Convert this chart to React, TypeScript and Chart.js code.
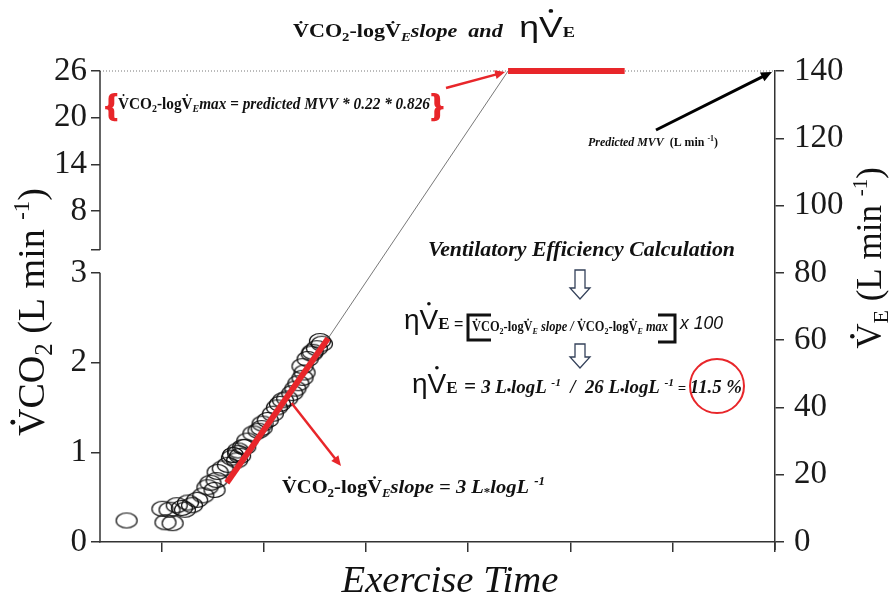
import React, { useEffect, useRef } from 'react';
import { Chart, registerables } from 'chart.js';
Chart.register(...registerables);

// ---- data ----
const circleX = [0.66, 1.01, 1.04, 1.11, 1.08, 1.15, 1.20, 1.26, 1.30, 1.35, 1.41, 1.45, 1.48, 1.54, 1.55, 1.60, 1.65, 1.69, 1.74, 1.75, 1.80, 1.84, 1.70, 1.75, 1.90, 1.95, 1.99, 2.04, 2.09, 2.13, 2.16, 2.23, 2.28, 2.31, 2.34, 2.38, 2.40, 2.43, 2.47, 2.52, 2.55, 2.57, 2.38, 1.82, 1.23, 1.52, 1.98, 2.19, 2.48, 1.77];
const circleY = [0.24, 0.37, 0.22, 0.21, 0.36, 0.41, 0.38, 0.44, 0.41, 0.47, 0.52, 0.61, 0.66, 0.69, 0.78, 0.82, 0.86, 0.94, 0.91, 0.99, 1.06, 1.13, 0.97, 1.02, 1.21, 1.24, 1.32, 1.36, 1.43, 1.50, 1.54, 1.60, 1.66, 1.71, 1.77, 1.83, 1.89, 2.04, 2.10, 2.16, 2.24, 2.21, 1.96, 1.06, 0.36, 0.58, 1.27, 1.58, 2.12, 0.96];

const slopeLineX = [1.64, 2.63];
const slopeLineY = [0.66, 2.27];
const extensionX = [2.63, 4.39];
const extensionY = [2.27, 26];
const maxBarX = [4.39, 5.53];
const maxBarY = [26, 26];
const refLineX = [0.4, 7];
const refLineY = [26, 26];

const xTicks = [1, 2, 3, 4, 5, 6, 7];
const leftTicks = [0, 1, 2, 3, 8, 14, 20, 26];
const rightTicks = [0, 20, 40, 60, 80, 100, 120, 140];

const X_MIN = 0.4;
const X_MAX = 7;
const BREAK_POS = 3.255;
const LEFT_MAX_POS = 5.25;
const UPPER_K = (LEFT_MAX_POS - BREAK_POS) / (26 - 3);
const leftPos = (v: number) => (v <= 3 ? v : BREAK_POS + (v - 3) * UPPER_K);

const SERIF = '"Liberation Serif", "Times New Roman", serif';
const SANS = '"Liberation Sans", Arial, sans-serif';

type Run = { t: string; s: number; b?: boolean; i?: boolean; fam?: string; dy?: number; c?: string; dot?: boolean };

const fontOf = (r: Run) => `${r.i ? 'italic ' : ''}${r.b ? 'bold ' : ''}${r.s}px ${r.fam || SERIF}`;

function drawRuns(ctx: CanvasRenderingContext2D, runs: Run[], x: number, y: number, align: 'left' | 'center' | 'right' = 'left', fitW?: number) {
  ctx.save();
  ctx.textAlign = 'left';
  ctx.textBaseline = 'alphabetic';
  let w = 0;
  for (const r of runs) {
    ctx.font = fontOf(r);
    w += ctx.measureText(r.t).width;
  }
  const k = fitW ? fitW / w : 1;
  const tw = w * k;
  const sx = align === 'center' ? x - tw / 2 : align === 'right' ? x - tw : x;
  ctx.translate(sx, y);
  ctx.scale(k, 1);
  let cx = 0;
  for (const r of runs) {
    ctx.font = fontOf(r);
    ctx.fillStyle = r.c || '#111';
    const dy = r.dy || 0;
    ctx.fillText(r.t, cx, dy);
    const mw = ctx.measureText(r.t).width;
    if (r.dot) {
      const last = r.t.length > 1 ? ctx.measureText(r.t.slice(0, -1)).width : 0;
      const lw = mw - last;
      const isSans = (r.fam || SERIF) === SANS;
      ctx.beginPath();
      ctx.arc(cx + last + lw / 2, dy - r.s * (isSans ? 0.9 : 0.82), Math.max(1, r.s * 0.065), 0, Math.PI * 2);
      ctx.fill();
    }
    cx += mw;
  }
  ctx.restore();
}

function arrow(ctx: CanvasRenderingContext2D, x1: number, y1: number, x2: number, y2: number, color: string, lw: number, hs: number) {
  const a = Math.atan2(y2 - y1, x2 - x1);
  ctx.save();
  ctx.strokeStyle = color;
  ctx.fillStyle = color;
  ctx.lineWidth = lw;
  ctx.beginPath();
  ctx.moveTo(x1, y1);
  ctx.lineTo(x2 - Math.cos(a) * hs * 0.8, y2 - Math.sin(a) * hs * 0.8);
  ctx.stroke();
  ctx.beginPath();
  ctx.moveTo(x2, y2);
  ctx.lineTo(x2 - hs * Math.cos(a) + (hs * 0.45) * Math.sin(a), y2 - hs * Math.sin(a) - (hs * 0.45) * Math.cos(a));
  ctx.lineTo(x2 - hs * Math.cos(a) - (hs * 0.45) * Math.sin(a), y2 - hs * Math.sin(a) + (hs * 0.45) * Math.cos(a));
  ctx.closePath();
  ctx.fill();
  ctx.restore();
}

function hollowArrow(ctx: CanvasRenderingContext2D, x: number, y0: number, y1: number, y2: number) {
  ctx.save();
  ctx.strokeStyle = '#34415a';
  ctx.fillStyle = '#fff';
  ctx.lineWidth = 1.3;
  ctx.beginPath();
  ctx.moveTo(x - 5, y0);
  ctx.lineTo(x + 5, y0);
  ctx.lineTo(x + 5, y1);
  ctx.lineTo(x + 10, y1);
  ctx.lineTo(x, y2);
  ctx.lineTo(x - 10, y1);
  ctx.lineTo(x - 5, y1);
  ctx.closePath();
  ctx.fill();
  ctx.stroke();
  ctx.restore();
}

const V = (s: number, b = true): Run => ({ t: 'V', s, b, dot: true });
const vco2Log = (s: number, sub: number, off: number): Run[] => [
  V(s),
  { t: 'CO', s, b: true },
  { t: '2', s: sub, b: true, dy: off },
  { t: '-log', s, b: true },
  V(s),
  { t: 'E', s: sub, b: true, i: true, dy: off },
];

const annotations = {
  id: 'annotations',
  beforeDraw(chart: any) {
    const ctx = chart.ctx;
    ctx.save();
    ctx.fillStyle = '#fff';
    ctx.fillRect(0, 0, chart.width, chart.height);
    ctx.restore();
  },
  afterDraw(chart: any) {
    const ctx: CanvasRenderingContext2D = chart.ctx;
    const xs = chart.scales.x;
    const ys = chart.scales.y;
    const y2 = chart.scales.y2;
    const ca = chart.chartArea;

    // broken left axis
    ctx.save();
    ctx.strokeStyle = '#333';
    ctx.lineWidth = 1.5;
    ctx.beginPath();
    ctx.moveTo(ca.left, ys.getPixelForValue(0) + 0.5);
    ctx.lineTo(ca.left, ys.getPixelForValue(3));
    ctx.moveTo(ca.left, ys.getPixelForValue(BREAK_POS));
    ctx.lineTo(ca.left, ys.getPixelForValue(LEFT_MAX_POS));
    ctx.stroke();
    // right axis runs slightly below the x axis
    ctx.beginPath();
    ctx.moveTo(ca.right, ca.bottom);
    ctx.lineTo(ca.right, ca.bottom + 8);
    ctx.stroke();
    ctx.restore();

    // title
    drawRuns(ctx, [
      ...vco2Log(18, 12, 4),
      { t: 'slope  and   ', s: 18, b: true, i: true },
      { t: 'η', s: 29, fam: SANS },
      { t: 'V', s: 29, fam: SANS, dot: true },
      { t: 'E', s: 15, b: true },
    ], 434, 37, 'center', 282);

    // axis titles
    ctx.save();
    ctx.translate(44, 312);
    ctx.rotate(-Math.PI / 2);
    drawRuns(ctx, [
      { t: 'V', s: 38, dot: true },
      { t: 'CO', s: 38 },
      { t: '2', s: 25, dy: 8 },
      { t: ' (L min ', s: 38 },
      { t: '-1', s: 23, dy: -15 },
      { t: ')', s: 38 },
    ], 0, 0, 'center');
    ctx.restore();

    ctx.save();
    ctx.translate(881, 258);
    ctx.rotate(-Math.PI / 2);
    drawRuns(ctx, [
      { t: 'V', s: 35, dot: true },
      { t: 'E', s: 22, dy: 7 },
      { t: ' (L min ', s: 35 },
      { t: '-1', s: 21, dy: -14 },
      { t: ')', s: 35 },
    ], 0, 0, 'center');
    ctx.restore();

    drawRuns(ctx, [{ t: 'Exercise Time', s: 38, i: true }], 450, 592, 'center', 217);

    // max box
    const red = '#e8262a';
    ctx.save();
    ctx.fillStyle = red;
    ctx.strokeStyle = red;
    ctx.lineWidth = 1.8;
    ctx.font = `bold 32px ${SERIF}`;
    ctx.textBaseline = 'alphabetic';
    ctx.fillText('{', 105, 116);
    ctx.strokeText('{', 105, 116);
    ctx.fillText('}', 431, 116);
    ctx.strokeText('}', 431, 116);
    ctx.restore();
    drawRuns(ctx, [
      ...vco2Log(17, 11, 3),
      { t: 'max', s: 17, b: true, i: true },
      { t: ' = ', s: 17, b: true },
      { t: 'predicted MVV * 0.22 * 0.826', s: 17, b: true, i: true },
    ], 118, 109, 'left', 312);

    const topX = xs.getPixelForValue(extensionX[1]);
    const topY = ys.getPixelForValue(leftPos(extensionY[1]));
    arrow(ctx, 446, 88, topX - 3, topY + 1, red, 2.5, 10);

    // predicted MVV
    drawRuns(ctx, [
      { t: 'Predicted MVV', s: 12, b: true, i: true },
      { t: '  (L min ', s: 12, b: true },
      { t: '-1', s: 8, b: true, dy: -5 },
      { t: ')', s: 12, b: true },
    ], 588, 146, 'left', 130);
    arrow(ctx, 656, 130, xs.getPixelForValue(X_MAX) - 3, y2.getPixelForValue(140) + 1, '#000', 3, 11);

    // ventilatory efficiency block
    drawRuns(ctx, [{ t: 'Ventilatory Efficiency Calculation', s: 22, b: true, i: true }], 428, 256, 'left', 307);
    hollowArrow(ctx, 580, 270, 288, 299);
    hollowArrow(ctx, 580, 344, 357, 368);

    drawRuns(ctx, [
      { t: 'η', s: 28, fam: SANS },
      { t: 'V', s: 28, fam: SANS, dot: true },
      { t: 'E', s: 17, b: true },
      { t: ' =', s: 16, fam: SANS },
    ], 404, 329, 'left');
    ctx.save();
    ctx.strokeStyle = '#111';
    ctx.lineWidth = 3;
    ctx.beginPath();
    ctx.moveTo(491, 315); ctx.lineTo(468, 315); ctx.lineTo(468, 340); ctx.lineTo(491, 340);
    ctx.moveTo(658, 315); ctx.lineTo(675, 315); ctx.lineTo(675, 342); ctx.lineTo(658, 342);
    ctx.stroke();
    ctx.restore();
    drawRuns(ctx, [
      ...vco2Log(14, 9, 3),
      { t: ' slope / ', s: 14, b: true, i: true },
      ...vco2Log(14, 9, 3),
      { t: ' max', s: 14, b: true, i: true },
    ], 472, 331, 'left', 196);
    drawRuns(ctx, [{ t: 'x 100', s: 18, i: true, fam: SANS }], 680, 329, 'left', 43);

    drawRuns(ctx, [
      { t: 'η', s: 28, fam: SANS },
      { t: 'V', s: 28, fam: SANS, dot: true },
      { t: 'E', s: 17, b: true },
    ], 412, 393, 'left');
    drawRuns(ctx, [
      { t: '= ', s: 20, b: true, i: true },
      { t: '3 L', s: 18, b: true, i: true },
      { t: '•', s: 12, b: true, dy: 1 },
      { t: 'logL ', s: 18, b: true, i: true },
      { t: '-1', s: 11, b: true, i: true, dy: -7 },
      { t: '  /  26 L', s: 18, b: true, i: true },
      { t: '•', s: 12, b: true, dy: 1 },
      { t: 'logL ', s: 18, b: true, i: true },
      { t: '-1', s: 11, b: true, i: true, dy: -7 },
      { t: ' = ', s: 14, b: true, i: true },
      { t: '11.5 %', s: 18, b: true, i: true },
    ], 464, 393, 'left', 278);
    ctx.save();
    ctx.strokeStyle = red;
    ctx.lineWidth = 2;
    ctx.beginPath();
    ctx.arc(717, 386, 27, 0, Math.PI * 2);
    ctx.stroke();
    ctx.restore();

    // slope label + arrow
    const mx = xs.getPixelForValue(slopeLineX[0] + (slopeLineX[1] - slopeLineX[0]) * 0.58);
    const my = ys.getPixelForValue(slopeLineY[0] + (slopeLineY[1] - slopeLineY[0]) * 0.58);
    arrow(ctx, mx + 6, my + 4, 341, 466, red, 2.5, 10);
    drawRuns(ctx, [
      ...vco2Log(19, 12, 4),
      { t: 'slope = 3 L', s: 19, b: true, i: true },
      { t: '*', s: 12, b: true, dy: 3 },
      { t: 'logL ', s: 19, b: true, i: true },
      { t: '-1', s: 12, b: true, i: true, dy: -8 },
    ], 282, 493, 'left', 263);
  },
};

function makeEllipse(): HTMLCanvasElement {
  const c = document.createElement('canvas');
  c.width = 26;
  c.height = 20;
  const g = c.getContext('2d')!;
  g.strokeStyle = '#111';
  g.lineWidth = 1.2;
  g.beginPath();
  g.ellipse(13, 10, 10.5, 7.5, 0, 0, Math.PI * 2);
  g.stroke();
  return c;
}

const zip = (xs: number[], ys: number[], f: (v: number) => number = (v) => v) => xs.map((x, i) => ({ x, y: f(ys[i]) }));

export default function App() {
  const ref = useRef<HTMLCanvasElement>(null);
  useEffect(() => {
    if (!ref.current) return;
    const ell = makeEllipse();
    const axisColor = '#333';
    const tickFont = { family: SERIF, size: 33 };
    const chart = new Chart(ref.current, {
      type: 'scatter',
      data: {
        datasets: [
          { data: zip(slopeLineX, slopeLineY), showLine: true, borderColor: '#e8262a', borderWidth: 6, pointRadius: 0, yAxisID: 'y', clip: false } as any,
          { data: zip(maxBarX, maxBarY, leftPos), showLine: true, borderColor: '#e8262a', borderWidth: 6, pointRadius: 0, yAxisID: 'y', clip: false } as any,
          { data: zip(extensionX, extensionY, leftPos), showLine: true, borderColor: '#555', borderWidth: 0.8, pointRadius: 0, yAxisID: 'y', clip: false } as any,
          { data: zip(refLineX, refLineY, leftPos), showLine: true, borderColor: '#777', borderWidth: 1, borderDash: [1, 2], pointRadius: 0, yAxisID: 'y', clip: false } as any,
          { data: zip(circleX, circleY), pointStyle: ell, pointRadius: 10, yAxisID: 'y' } as any,
        ],
      },
      options: {
        animation: false,
        responsive: false,
        maintainAspectRatio: false,
        layout: { padding: { top: 71, left: 8, right: 0, bottom: 0 } },
        plugins: { legend: { display: false }, tooltip: { enabled: false } },
        events: [],
        scales: {
          x: {
            type: 'linear',
            min: X_MIN,
            max: X_MAX,
            afterBuildTicks: (s: any) => { s.ticks = xTicks.map((v) => ({ value: v })); },
            afterFit: (s: any) => { s.height = 54; },
            ticks: { display: false },
            grid: { drawOnChartArea: false, tickLength: 10, color: axisColor, lineWidth: 1.5 },
            border: { color: axisColor, width: 1.5 },
          },
          y: {
            type: 'linear',
            position: 'left',
            min: 0,
            max: LEFT_MAX_POS,
            afterBuildTicks: (s: any) => {
              s.ticks = [...leftTicks.map(leftPos), BREAK_POS].sort((a, b) => a - b).map((v) => ({ value: v }));
            },
            afterFit: (s: any) => { s.width = 92; },
            ticks: {
              autoSkip: false,
              padding: 4,
              color: '#1a1a1a',
              font: tickFont,
              callback: (value: any) => {
                const t = leftTicks.find((v) => Math.abs(leftPos(v) - value) < 1e-6);
                return t === undefined ? '' : String(t);
              },
            },
            grid: { drawOnChartArea: false, tickLength: 9, color: axisColor, lineWidth: 1.5 },
            border: { display: false },
          },
          y2: {
            type: 'linear',
            position: 'right',
            min: 0,
            max: 140,
            afterBuildTicks: (s: any) => { s.ticks = rightTicks.map((v) => ({ value: v })); },
            afterFit: (s: any) => { s.width = 121; },
            ticks: { autoSkip: false, padding: 10, color: '#1a1a1a', font: tickFont },
            grid: { drawOnChartArea: false, tickLength: 9, color: axisColor, lineWidth: 1.5 },
            border: { color: axisColor, width: 1.5 },
          },
        },
      } as any,
      plugins: [annotations],
    });
    return () => chart.destroy();
  }, []);
  return (
    <div style={{ position: 'fixed', left: 0, top: 0, width: 896, height: 596, background: '#fff' }}>
      <canvas ref={ref} width={896} height={596} style={{ width: 896, height: 596, display: 'block' }} />
    </div>
  );
}
